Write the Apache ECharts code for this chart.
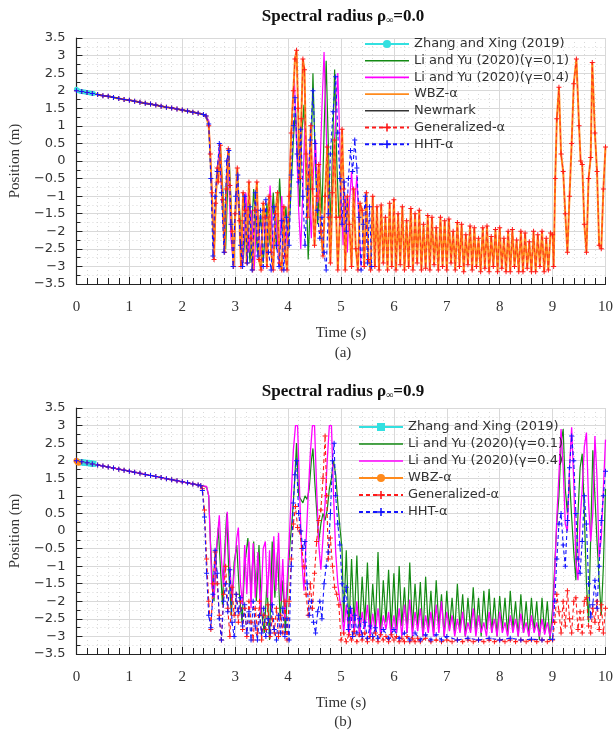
<!DOCTYPE html>
<html><head><meta charset="utf-8">
<script src="https://cdn.jsdelivr.net/npm/echarts@6/dist/echarts.min.js"></script>
<style>html,body{margin:0;padding:0;background:#fff}#c{width:616px;height:731px}</style>
</head><body><div id="c"></div>
<script>
// ---------- Panel (a): rho = 0.0 ----------
const headA = [[0,2.0],[0.1,1.98],[0.2,1.95],[0.3,1.92],[0.4,1.89],[0.5,1.86],[0.6,1.84],[0.7,1.81],[0.8,1.78],[0.9,1.75],[1.0,1.73],[1.1,1.70],[1.2,1.67],[1.3,1.64],[1.4,1.62],[1.5,1.59],[1.6,1.56],[1.7,1.53],[1.8,1.51],[1.9,1.48],[2.0,1.45],[2.1,1.42],[2.2,1.39],[2.3,1.36],[2.4,1.32],[2.45,1.28]];
const zhangA = [[0,2.04],[0.04,2.0],[0.08,1.98],[0.12,1.97],[0.16,1.96],[0.2,1.95],[0.24,1.94],[0.28,1.93],[0.32,1.92]];
const li01A = [[2.5,1.1],[2.55,-0.6],[2.6,-2.7],[2.66,-0.2],[2.72,0.4],[2.78,-1.2],[2.82,-2.5],[2.88,0.3],[2.93,-1.5],[2.97,-2.9],[3.04,-0.3],[3.1,-1.8],[3.15,-2.9],[3.22,-1.2],[3.28,-2.9],[3.35,-0.8],[3.42,-2.6],[3.48,-1.5],[3.53,-2.9],[3.6,-1.2],[3.66,-2.4],[3.72,-0.9],[3.78,-2.5],[3.84,-0.5],[3.9,-2.3],[3.96,-1.3],[4.0,-2.5],[4.05,-1.0],[4.1,0.6],[4.14,1.5],[4.18,0.0],[4.22,-1.3],[4.26,0.8],[4.3,1.6],[4.34,-0.5],[4.38,-2.8],[4.42,-1.2],[4.47,2.5],[4.51,0.2],[4.56,-1.8],[4.6,-0.3],[4.64,-1.5],[4.68,0.8],[4.72,2.85],[4.76,0.5],[4.8,-1.9],[4.84,0.3],[4.88,2.6],[4.92,0.0],[4.96,-1.6]];
const li04A = [[2.5,1.15],[2.55,-0.4],[2.6,-2.6],[2.65,-0.6],[2.7,0.4],[2.76,-1.3],[2.8,-2.5],[2.86,0.2],[2.92,-2.2],[2.97,-3.0],[3.03,-0.5],[3.09,-2.0],[3.14,-3.0],[3.2,-0.9],[3.26,-2.6],[3.31,-1.4],[3.36,-3.1],[3.42,-1.1],[3.48,-2.7],[3.54,-1.6],[3.6,-3.0],[3.66,-0.7],[3.72,-2.6],[3.77,-1.5],[3.83,-3.0],[3.88,-1.0],[3.94,-2.8],[4.0,-1.5],[4.05,0.5],[4.09,1.7],[4.12,2.3],[4.16,0.5],[4.2,-1.4],[4.24,-2.5],[4.28,-0.8],[4.32,1.2],[4.36,0.1],[4.4,-1.0],[4.44,-2.2],[4.48,-0.3],[4.52,0.6],[4.56,-1.2],[4.6,-0.4],[4.64,1.5],[4.68,3.1],[4.72,1.0],[4.76,-1.5],[4.8,-2.5],[4.85,0.0],[4.9,1.2],[4.94,2.5],[4.97,1.0],[5.0,-0.8],[5.04,-2.4],[5.08,-1.0],[5.12,-2.6],[5.16,-1.2],[5.2,-0.3],[5.25,-1.5],[5.3,-0.4],[5.34,-1.8],[5.38,-3.0]];
const wbzA = [[2.5,1.0],[2.53,0.2],[2.56,-0.9],[2.6,-2.8],[2.63,-1.2],[2.66,-0.2],[2.68,-0.6],[2.72,0.45],[2.76,-1.1],[2.8,-2.6],[2.83,-0.8],[2.87,0.35],[2.9,-0.7],[2.94,-2.0],[2.97,-3.0],[3.0,-1.5],[3.04,-0.2],[3.08,-1.7],[3.11,-3.0],[3.15,-0.9],[3.19,-1.4],[3.22,-2.9],[3.26,-0.6],[3.3,-2.2],[3.33,-3.1],[3.37,-1.4],[3.41,-0.6],[3.45,-2.8],[3.49,-3.1],[3.53,-1.2],[3.57,-1.6],[3.6,-3.0],[3.64,-1.0],[3.68,-2.6],[3.72,-3.1],[3.76,-1.5],[3.8,-0.9],[3.84,-2.9],[3.88,-3.1],[3.92,-1.3],[3.95,-2.7],[3.98,-3.1],[4.02,-1.0],[4.06,0.8],[4.1,2.0],[4.13,2.9],[4.16,3.15],[4.19,1.5],[4.22,-0.5],[4.25,1.2],[4.28,2.9],[4.31,2.6],[4.34,0.2],[4.37,-1.6],[4.4,-0.4],[4.43,1.0],[4.46,-0.8],[4.5,-2.4],[4.54,-1.0],[4.58,-0.1],[4.62,-2.0],[4.66,-2.7],[4.7,-1.0],[4.74,0.4],[4.77,-1.6],[4.8,-2.9],[4.84,-0.9],[4.88,0.6],[4.91,-1.6],[4.94,-3.1],[4.98,-1.6],[5.02,0.9],[5.05,-0.8],[5.08,-3.1],[5.12,-1.0],[5.16,-1.8],[5.2,-3.0],[5.24,-0.8],[5.28,-2.5],[5.32,-3.1],[5.36,-1.2],[5.4,-1.4],[5.44,-3.0],[5.48,-0.9],[5.52,-2.8],[5.56,-3.1],
[5.60,-1.0],[5.64,-3.0],[5.68,-1.3],[5.72,-3.1],[5.76,-1.25],[5.80,-2.9],[5.84,-1.6],[5.88,-3.1],[5.92,-1.2],[5.96,-3.0],[6.00,-1.1],[6.04,-3.1],[6.08,-1.5],[6.12,-2.95],[6.16,-1.3],[6.20,-3.1],[6.24,-1.7],[6.28,-3.0],[6.32,-1.35],[6.36,-3.1],[6.40,-1.5],[6.44,-2.9],[6.48,-1.4],[6.52,-3.1],[6.56,-1.8],[6.60,-3.05],[6.64,-1.55],[6.68,-3.1],[6.72,-1.6],[6.76,-2.95],[6.80,-1.9],[6.84,-3.1],[6.88,-1.6],[6.92,-3.0],[6.96,-1.7],[7.00,-3.1],[7.04,-1.65],[7.08,-2.9],[7.12,-2.0],[7.16,-3.1],[7.20,-1.75],[7.24,-3.0],[7.28,-1.8],[7.32,-3.15],[7.36,-2.1],[7.40,-2.95],[7.44,-1.85],[7.48,-3.1],[7.52,-1.9],[7.56,-3.0],[7.60,-2.2],[7.64,-3.15],[7.68,-1.9],[7.72,-3.05],[7.76,-1.85],[7.80,-3.15],[7.84,-2.15],[7.88,-3.0],[7.92,-1.95],[7.96,-3.15],[8.00,-1.9],[8.04,-3.05],[8.08,-2.2],[8.12,-3.15],[8.16,-2.0],[8.20,-3.15],[8.24,-1.95],[8.28,-3.0],[8.32,-2.25],[8.36,-3.15],[8.40,-2.0],[8.44,-3.15],[8.48,-2.05],[8.52,-3.05],[8.56,-2.3],[8.60,-3.15],[8.64,-2.0],[8.68,-3.15],[8.72,-2.1],[8.76,-3.0],[8.80,-2.0],[8.84,-3.15],[8.88,-2.2],[8.92,-3.1],[8.96,-2.05],[9.0,-2.1],[9.02,-3.0],
[9.05,-0.5],[9.08,1.2],[9.12,2.1],[9.16,0.2],[9.2,-0.3],[9.24,-1.5],[9.28,-2.6],[9.32,-1.0],[9.36,0.5],[9.4,2.2],[9.45,2.9],[9.5,1.0],[9.53,0.0],[9.56,-0.1],[9.6,-1.8],[9.64,-2.6],[9.68,-0.5],[9.72,0.1],[9.75,2.8],[9.8,0.8],[9.84,-0.3],[9.88,-2.4],[9.92,-2.5],[9.96,-0.8],[10.0,0.4]];
const genA = wbzA;
const hhtA = [[2.5,1.05],[2.54,-0.5],[2.58,-2.7],[2.62,-1.0],[2.66,-0.3],[2.7,0.5],[2.74,-0.9],[2.79,-2.6],[2.84,0.0],[2.88,0.3],[2.92,-1.8],[2.96,-3.0],[3.01,-1.0],[3.05,-0.4],[3.1,-2.4],[3.14,-3.0],[3.18,-1.0],[3.23,-2.9],[3.28,-1.3],[3.32,-3.1],[3.38,-0.9],[3.43,-2.7],[3.48,-1.4],[3.53,-3.0],[3.58,-1.1],[3.63,-2.6],[3.68,-3.1],[3.73,-1.3],[3.78,-2.4],[3.83,-3.0],[3.88,-1.7],[3.92,-3.1],[3.97,-1.6],[4.02,-2.4],[4.06,-0.4],[4.1,1.0],[4.13,1.8],[4.17,0.2],[4.2,-0.6],[4.24,0.9],[4.28,-1.0],[4.32,-2.4],[4.37,-0.8],[4.42,0.6],[4.47,2.0],[4.51,0.5],[4.55,-1.4],[4.6,-2.2],[4.64,-1.6],[4.68,-2.6],[4.72,-3.1],[4.76,-1.5],[4.8,0.2],[4.85,1.4],[4.9,2.4],[4.94,0.8],[4.98,-0.5],[5.02,-1.8],[5.06,-0.6],[5.1,-2.0],[5.14,-0.5],[5.18,0.3],[5.22,-0.3],[5.26,0.6],[5.3,-0.2],[5.34,-1.6],[5.38,-3.1],[5.42,-1.8],[5.46,-1.0],[5.5,-2.9],[5.54,-1.3],[5.58,-3.0]];

// ---------- Panel (b): rho = 0.9 ----------
const headB = [[0,2.0],[0.1,1.97],[0.2,1.94],[0.3,1.91],[0.4,1.88],[0.5,1.85],[0.6,1.82],[0.7,1.79],[0.8,1.76],[0.9,1.73],[1.0,1.70],[1.1,1.67],[1.2,1.64],[1.3,1.61],[1.4,1.58],[1.5,1.55],[1.6,1.52],[1.7,1.49],[1.8,1.46],[1.9,1.43],[2.0,1.40],[2.1,1.37],[2.2,1.34],[2.3,1.31],[2.35,1.29]];
const zhangB = [[0.08,1.96],[0.12,1.95],[0.16,1.94],[0.2,1.94],[0.24,1.93],[0.28,1.92],[0.32,1.91]];
const wbzB = [[0,2.0],[0.02,1.96],[0.04,1.94]];
const li01B = [[2.4,1.28],[2.46,1.25],[2.5,1.0],[2.53,-0.2],[2.57,-1.5],[2.6,-2.0],[2.64,-0.8],[2.68,0.1],[2.72,-1.0],[2.76,-2.1],[2.8,-0.6],[2.84,0.5],[2.88,-1.2],[2.93,-2.4],[2.98,-0.9],[3.03,-0.4],[3.08,-1.8],[3.13,-2.6],[3.18,-1.0],[3.24,-0.2],[3.3,-1.7],[3.35,-0.3],[3.4,-2.0],[3.45,-0.4],[3.5,-2.3],[3.55,-2.9],[3.6,-1.5],[3.65,-3.1],[3.7,-0.3],[3.75,-1.9],[3.8,-0.6],[3.85,-2.5],[3.9,-1.4],[3.95,-2.9],[4.0,-1.2],[4.04,-0.3],[4.08,0.4],[4.12,1.3],[4.16,2.5],[4.2,1.0],[4.24,0.9],[4.28,0.8],[4.32,1.0],[4.36,0.9],[4.4,1.2],[4.44,2.0],[4.47,2.35],[4.5,1.5],[4.54,0.6],[4.58,-0.3],[4.62,0.2],[4.66,0.5],[4.7,0.3],[4.74,0.6],[4.78,1.2],[4.82,1.5],[4.86,2.0],[4.9,1.6],[4.94,0.8],[4.98,0.1],[5.02,-0.5],[5.05,-2.6],[5.1,-0.55],[5.15,-2.8],[5.2,-0.8],[5.25,-2.7],[5.3,-0.7],[5.35,-2.9],[5.4,-1.3],[5.45,-2.6],[5.5,-0.9],[5.55,-2.8],[5.6,-1.5],[5.65,-2.7],[5.7,-0.6],[5.75,-2.9],[5.8,-1.4],[5.85,-2.6],[5.9,-1.1],[5.95,-2.8],[6.0,-1.2],[6.05,-2.9],[6.1,-1.0],[6.15,-2.7],[6.2,-1.6],[6.25,-2.9],[6.3,-0.9],[6.35,-2.8],[6.4,-1.5],[6.45,-2.7],[6.5,-1.45],[6.55,-3.0],[6.6,-1.3],[6.65,-2.8],[6.7,-1.7],[6.75,-2.9],[6.8,-1.4],[6.85,-2.7],[6.9,-1.8],[6.95,-3.0],[7.0,-1.7],[7.05,-2.8],[7.1,-1.9],[7.15,-2.9],[7.2,-1.5],[7.25,-2.8],[7.3,-1.8],[7.35,-3.0],[7.4,-1.9],[7.45,-2.8],[7.5,-1.6],[7.55,-2.9],[7.6,-1.9],[7.65,-3.0],[7.7,-1.7],[7.75,-2.8],[7.8,-1.65],[7.85,-2.9],[7.9,-1.9],[7.95,-3.0],[8.0,-1.85],[8.05,-2.8],[8.1,-1.9],[8.15,-2.95],[8.2,-1.7],[8.25,-2.8],[8.3,-2.0],[8.35,-3.0],[8.4,-1.8],[8.45,-2.9],[8.5,-2.0],[8.55,-3.0],[8.6,-1.9],[8.65,-2.85],[8.7,-2.0],[8.75,-3.1],[8.8,-1.9],[8.85,-2.9],[8.9,-2.0],[8.95,-3.1],[9.0,-2.2],[9.04,-1.0],[9.08,0.2],[9.12,1.0],[9.16,2.5],[9.2,2.9],[9.24,1.2],[9.28,0.5],[9.32,1.5],[9.36,0.4],[9.4,-0.6],[9.44,-1.4],[9.48,0.5],[9.52,1.8],[9.56,2.2],[9.6,0.5],[9.64,-1.5],[9.68,-2.6],[9.72,-0.2],[9.76,2.3],[9.8,1.0],[9.84,-0.3],[9.88,-1.4],[9.92,-2.4],[9.96,-1.0],[10.0,1.2]];
const li04B = [[2.4,1.28],[2.46,1.27],[2.5,1.0],[2.53,-0.3],[2.56,-1.6],[2.6,-1.9],[2.64,-0.6],[2.7,0.45],[2.74,-0.8],[2.78,-1.6],[2.82,-0.3],[2.85,0.55],[2.9,-1.0],[2.94,-2.0],[2.98,-1.2],[3.03,-0.2],[3.06,0.1],[3.1,-1.5],[3.14,-2.1],[3.18,-0.4],[3.22,-1.8],[3.26,-0.3],[3.3,-2.2],[3.34,-0.35],[3.38,-1.9],[3.43,-0.6],[3.48,-2.4],[3.53,-0.5],[3.57,-0.3],[3.61,-1.9],[3.65,-0.55],[3.69,-2.3],[3.73,-0.15],[3.77,-1.7],[3.82,-0.05],[3.86,-2.0],[3.9,-0.8],[3.94,-2.5],[3.98,-1.5],[4.02,-0.3],[4.06,1.0],[4.1,2.3],[4.14,3.0],[4.18,3.0],[4.22,1.0],[4.26,-0.8],[4.3,-1.7],[4.34,-0.3],[4.38,1.0],[4.42,2.2],[4.46,3.0],[4.5,3.0],[4.54,1.2],[4.58,-0.4],[4.62,-1.1],[4.66,-0.2],[4.7,0.8],[4.74,2.0],[4.78,3.0],[4.82,3.0],[4.86,1.0],[4.9,-0.6],[4.94,-1.5],[4.98,-2.0],[5.02,-2.3],[5.05,-2.9],[5.1,-2.1],[5.15,-3.0],[5.2,-2.2],[5.25,-2.9],[5.3,-2.0],[5.35,-3.0],[5.4,-2.3],[5.45,-2.8],[5.5,-2.1],[5.55,-3.0],[5.6,-2.35],[5.65,-2.9],[5.7,-2.2],[5.75,-3.0],[5.8,-2.4],[5.85,-2.8],[5.9,-2.3],[5.95,-3.0],[6.0,-2.4],[6.05,-2.9],[6.1,-2.2],[6.15,-3.0],[6.2,-2.1],[6.25,-2.9],[6.3,-1.95],[6.35,-3.0],[6.4,-2.3],[6.45,-2.85],[6.5,-2.2],[6.55,-3.0],[6.6,-2.4],[6.65,-2.9],[6.7,-2.3],[6.75,-3.0],[6.8,-2.1],[6.85,-2.9],[6.9,-2.0],[6.95,-3.0],[7.0,-2.3],[7.05,-2.85],[7.1,-2.4],[7.15,-3.0],[7.2,-2.5],[7.25,-2.9],[7.3,-2.3],[7.35,-3.0],[7.4,-2.6],[7.45,-2.9],[7.5,-2.2],[7.55,-3.0],[7.6,-2.4],[7.65,-2.9],[7.7,-2.6],[7.75,-3.0],[7.8,-2.3],[7.85,-2.9],[7.9,-2.5],[7.95,-3.0],[8.0,-2.3],[8.05,-2.9],[8.1,-2.6],[8.15,-3.0],[8.2,-2.4],[8.25,-2.9],[8.3,-2.5],[8.35,-3.0],[8.4,-2.35],[8.45,-2.9],[8.5,-2.6],[8.55,-3.0],[8.6,-2.4],[8.65,-2.9],[8.7,-2.6],[8.75,-3.0],[8.8,-2.5],[8.85,-2.95],[8.9,-2.6],[8.95,-3.0],[9.0,-2.6],[9.04,-1.2],[9.08,0.4],[9.12,1.6],[9.16,2.9],[9.2,1.8],[9.24,0.2],[9.28,0.0],[9.32,1.8],[9.36,2.95],[9.4,1.4],[9.44,-0.9],[9.48,-1.4],[9.52,0.3],[9.56,1.2],[9.6,2.4],[9.64,2.8],[9.68,0.8],[9.72,-0.3],[9.76,0.5],[9.8,2.7],[9.84,1.5],[9.88,-0.75],[9.92,-0.2],[9.96,1.2],[10.0,2.6]];
const genB = [[2.38,1.2],[2.42,0.6],[2.46,-0.8],[2.5,-2.0],[2.54,-2.8],[2.58,-1.5],[2.62,-0.6],[2.66,-1.5],[2.7,-2.4],[2.74,-3.1],[2.78,-1.8],[2.82,-1.0],[2.86,-2.2],[2.9,-3.0],[2.94,-1.6],[2.98,-2.4],[3.02,-1.8],[3.06,-2.6],[3.1,-2.0],[3.14,-2.8],[3.18,-2.2],[3.22,-3.0],[3.26,-2.0],[3.3,-2.6],[3.34,-3.1],[3.38,-2.2],[3.42,-2.9],[3.46,-2.0],[3.5,-3.1],[3.54,-2.4],[3.58,-2.8],[3.62,-2.1],[3.66,-3.0],[3.7,-2.5],[3.74,-2.9],[3.78,-2.2],[3.82,-3.0],[3.86,-2.4],[3.9,-2.9],[3.94,-2.0],[3.98,-3.1],[4.02,-2.0],[4.06,-0.8],[4.1,0.2],[4.14,0.7],[4.18,0.1],[4.22,0.0],[4.26,-0.5],[4.3,-1.0],[4.34,-1.8],[4.38,-2.4],[4.42,-1.5],[4.46,-2.2],[4.5,-1.2],[4.54,-0.3],[4.58,0.3],[4.62,0.6],[4.66,1.5],[4.7,2.7],[4.73,1.0],[4.76,-0.8],[4.8,-0.2],[4.84,-1.0],[4.88,-1.6],[4.92,-1.8],[4.96,-2.1],[5.0,-3.1],[5.05,-2.9],[5.1,-3.15],[5.15,-2.95],[5.2,-3.1],[5.25,-2.85],[5.3,-3.15],[5.35,-2.95],[5.4,-3.1],[5.45,-2.9],[5.5,-3.15],[5.55,-3.0],[5.6,-3.1],[5.65,-2.9],[5.7,-3.15],[5.75,-2.95],[5.8,-3.1],[5.85,-3.0],[5.9,-3.15],[5.95,-2.95],[6.0,-3.1],[6.05,-3.0],[6.1,-3.15],[6.15,-3.05],[6.2,-3.15],[6.25,-3.0],[6.3,-3.15],[6.35,-3.05],[6.4,-3.15],[6.45,-3.05],[6.5,-3.15],[6.6,-3.05],[6.7,-3.15],[6.8,-3.1],[6.9,-3.15],[7.0,-3.1],[7.1,-3.15],[7.2,-3.1],[7.3,-3.15],[7.4,-3.1],[7.5,-3.15],[7.6,-3.1],[7.7,-3.15],[7.8,-3.1],[7.9,-3.15],[8.0,-3.1],[8.1,-3.15],[8.2,-3.1],[8.3,-3.15],[8.4,-3.1],[8.5,-3.15],[8.6,-3.1],[8.7,-3.15],[8.8,-3.1],[8.9,-3.15],[9.0,-3.1],[9.04,-2.6],[9.08,-1.8],[9.12,-2.3],[9.16,-2.9],[9.2,-2.0],[9.24,-2.7],[9.28,-1.7],[9.32,-2.5],[9.36,-2.9],[9.4,-2.0],[9.44,-1.9],[9.48,-2.8],[9.52,-2.3],[9.56,-2.9],[9.6,-2.0],[9.64,-1.9],[9.68,-2.7],[9.72,-2.9],[9.76,-2.2],[9.8,-2.6],[9.84,-2.0],[9.88,-2.8],[9.92,-2.1],[9.96,-2.9],[10.0,-2.2]];
const hhtB = [[2.38,1.15],[2.42,0.4],[2.46,-1.2],[2.5,-2.4],[2.54,-2.75],[2.58,-1.8],[2.62,-0.55],[2.66,-1.2],[2.7,-2.5],[2.74,-3.1],[2.78,-2.0],[2.82,-1.5],[2.86,-2.3],[2.9,-1.1],[2.94,-2.6],[2.98,-3.0],[3.02,-1.8],[3.06,-2.3],[3.1,-1.9],[3.14,-2.7],[3.18,-2.1],[3.22,-2.9],[3.26,-2.3],[3.3,-3.1],[3.34,-2.0],[3.38,-2.7],[3.42,-3.1],[3.46,-2.4],[3.5,-2.9],[3.54,-2.2],[3.58,-3.0],[3.62,-2.5],[3.66,-2.9],[3.7,-2.1],[3.74,-2.8],[3.78,-3.1],[3.82,-2.4],[3.86,-2.9],[3.9,-2.2],[3.94,-3.0],[3.98,-2.5],[4.02,-3.1],[4.06,-1.0],[4.1,0.8],[4.13,1.6],[4.16,2.0],[4.2,0.5],[4.24,0.0],[4.28,-0.5],[4.32,-0.3],[4.36,-1.5],[4.4,-2.4],[4.44,-2.0],[4.48,-2.6],[4.52,-2.9],[4.56,-2.3],[4.6,-2.0],[4.64,-2.5],[4.68,-1.5],[4.72,-1.0],[4.76,-0.6],[4.8,0.5],[4.84,2.0],[4.87,2.5],[4.9,1.0],[4.94,0.2],[4.98,-0.4],[5.02,-1.5],[5.06,-2.0],[5.1,-1.6],[5.14,-2.8],[5.18,-2.2],[5.22,-3.0],[5.26,-2.4],[5.3,-2.9],[5.35,-2.5],[5.4,-3.0],[5.45,-2.6],[5.5,-3.05],[5.55,-2.7],[5.6,-3.0],[5.65,-2.75],[5.7,-3.05],[5.8,-2.8],[5.9,-3.05],[6.0,-2.8],[6.1,-3.05],[6.2,-2.9],[6.3,-3.1],[6.4,-2.9],[6.5,-3.1],[6.6,-2.95],[6.7,-3.1],[6.8,-2.95],[6.9,-3.1],[7.0,-3.0],[7.2,-3.1],[7.4,-3.05],[7.6,-3.1],[7.8,-3.05],[8.0,-3.1],[8.2,-3.05],[8.4,-3.1],[8.6,-3.08],[8.8,-3.1],[9.0,-3.08],[9.04,-2.0],[9.08,-0.8],[9.12,0.2],[9.16,0.5],[9.2,-0.4],[9.24,-1.0],[9.28,0.3],[9.32,1.8],[9.36,2.7],[9.4,2.0],[9.44,0.5],[9.48,-0.8],[9.52,-1.2],[9.56,-0.3],[9.6,1.0],[9.64,0.2],[9.68,-1.5],[9.72,-2.45],[9.76,-2.1],[9.8,-1.4],[9.84,-2.2],[9.88,-1.0],[9.92,0.3],[9.96,1.0],[10.0,1.7]];

const namesA = ['Zhang and Xing (2019)','Li and Yu (2020)(γ=0.1)','Li and Yu (2020)(γ=0.4)','WBZ-α','Newmark','Generalized-α','HHT-α'];
const namesB = ['Zhang and Xing (2019)','Li and Yu (2020)(γ=0.1)','Li and Yu (2020)(γ=0.4)','WBZ-α','Generalized-α','HHT-α'].map(s => s + '\u200B');

const PLUS = 'path://M4,0H6V4H10V6H6V10H4V6H0V4H4Z';
const LINE_ICON = 'path://M0,0H44V1.6H0Z';
const C = {cyan:'#33e0e0', green:'#138a13', mag:'#ff00ff', orange:'#ff8a1c', black:'#333333', red:'#ff1a1a', blue:'#1414ff'};

function ser(name, data, idx, o) {
  return Object.assign({
    name, type:'line', data, xAxisIndex:idx, yAxisIndex:idx,
    symbol:'none', animation:false, clip:true,
    lineStyle:{width:1.2}
  }, o);
}
const plus = (col, w) => ({symbol:PLUS, symbolSize:5, showSymbol:true, itemStyle:{color:col}, lineStyle:{color:col, width:w, type:[4,3]}});

const series = [
  ser(namesA[0], zhangA, 0, {symbol:'circle', symbolSize:5, itemStyle:{color:C.cyan}, lineStyle:{color:C.cyan, width:3}}),
  ser(namesA[1], headA.concat(li01A), 0, {itemStyle:{color:C.green}, lineStyle:{color:C.green, width:1.2}}),
  ser(namesA[2], headA.concat(li04A), 0, {itemStyle:{color:C.mag}, lineStyle:{color:C.mag, width:1.2}}),
  ser(namesA[3], headA.concat(wbzA), 0, {itemStyle:{color:C.orange}, lineStyle:{color:C.orange, width:2}}),
  ser(namesA[4], headA, 0, {itemStyle:{color:C.black}, lineStyle:{color:C.black, width:1.2}}),
  ser(namesA[5], headA.concat(genA), 0, plus(C.red, 0.8)),
  ser(namesA[6], headA.concat(hhtA), 0, plus(C.blue, 1.1)),

  ser(namesB[0], zhangB, 1, {symbol:'rect', symbolSize:6, itemStyle:{color:C.cyan}, lineStyle:{color:C.cyan, width:4}}),
  ser(namesB[1], headB.concat(li01B), 1, {itemStyle:{color:C.green}, lineStyle:{color:C.green, width:1.2}}),
  ser(namesB[2], headB.concat(li04B), 1, {itemStyle:{color:C.mag}, lineStyle:{color:C.mag, width:1.3}}),
  ser(namesB[3], wbzB, 1, {symbol:'circle', symbolSize:6, itemStyle:{color:C.orange}, lineStyle:{color:C.orange, width:1.5}}),
  ser(namesB[4], headB.concat(genB), 1, plus(C.red, 1.1)),
  ser(namesB[5], headB.concat(hhtB), 1, plus(C.blue, 1.1))
];

const gridCol = '#d9d9d9';
function xAx(idx) {
  return {
    type:'value', gridIndex:idx, min:0, max:10, interval:1,
    name:'Time (s)', nameLocation:'middle', nameGap:42,
    nameTextStyle:{fontFamily:'Liberation Serif', fontSize:15, color:'#333'},
    axisLine:{onZero:false, lineStyle:{color:'#222', width:1.2}},
    axisTick:{inside:true, length:7, lineStyle:{color:'#222'}},
    minorTick:{show:true, splitNumber:5, length:6, lineStyle:{color:'#222'}},
    axisLabel:{margin:16, fontFamily:'Liberation Serif', fontSize:15, color:'#333'},
    splitLine:{show:true, lineStyle:{color:gridCol, width:1}},
    minorSplitLine:{show:true, lineStyle:{color:gridCol, type:[1,3], width:1}}
  };
}
function yAx(idx) {
  return {
    type:'value', gridIndex:idx, min:-3.5, max:3.5, interval:0.5,
    name:'Position (m)', nameLocation:'middle', nameGap:40, nameRotate:90,
    nameTextStyle:{fontFamily:'Liberation Serif', fontSize:15, color:'#333'},
    axisLine:{onZero:false, lineStyle:{color:'#222', width:1.2}},
    axisTick:{inside:true, length:6, lineStyle:{color:'#222'}},
    minorTick:{show:true, splitNumber:2, length:4, lineStyle:{color:'#222'}},
    axisLabel:{margin:11, fontFamily:'DejaVu Sans', fontSize:13, color:'#333',
      formatter:(v)=>String(v).replace('-','\u2212')},
    splitLine:{show:true, lineStyle:{color:gridCol, width:1}},
    minorSplitLine:{show:true, lineStyle:{color:gridCol, type:[1,3], width:1}}
  };
}
function legendData(names, plainIdx) {
  return names.map((n, i) => plainIdx.indexOf(i) >= 0 ? {name:n, icon:LINE_ICON} : {name:n});
}
function legend(data, top, left, gap) {
  return {
    data, orient:'vertical', left, top, itemWidth:44, itemHeight:10, itemGap:gap,
    backgroundColor:'transparent', selectedMode:false,
    textStyle:{fontFamily:'DejaVu Sans', fontSize:13, color:'#333', lineHeight:14}
  };
}
function titleText(main, y) {
  return {type:'text', x:343, y, style:{
    text:'{b|Spectral radius ρ}{s|∞}{b|=' + main + '}', align:'center', verticalAlign:'middle',
    rich:{b:{fontFamily:'Liberation Serif', fontWeight:'bold', fontSize:17, fill:'#111'},
          s:{fontFamily:'Liberation Serif', fontWeight:'bold', fontSize:10, fill:'#111', padding:[7,0,0,0]}}
  }};
}
function plainText(t, y) {
  return {type:'text', x:343, y, style:{text:t, align:'center', verticalAlign:'middle',
    fontFamily:'Liberation Serif', fontSize:15, fill:'#333'}};
}

const chart = echarts.init(document.getElementById('c'), null, {renderer:'canvas'});
chart.setOption({
  backgroundColor:'#fff',
  animation:false,
  grid:[{left:76, right:5, top:38, height:246}, {left:76, right:5, top:408, height:246}],
  xAxis:[xAx(0), xAx(1)],
  yAxis:[yAx(0), yAx(1)],
  legend:[legend(legendData(namesA, [1,2,3,4]), 32, 359, 2.7), legend(legendData(namesB, [1,2]), 415, 353, 3)],
  graphic:[titleText('0.0', 17), plainText('(a)', 353), titleText('0.9', 392), plainText('(b)', 722)],
  series
});
</script></body></html>
